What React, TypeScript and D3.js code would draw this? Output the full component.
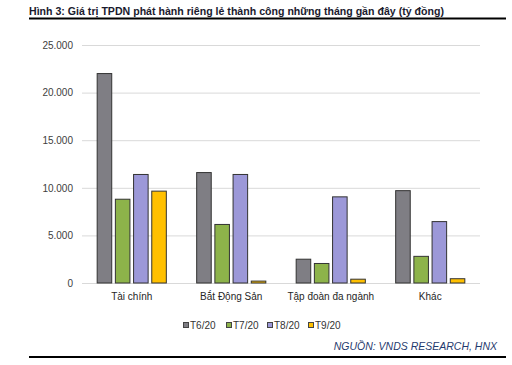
import React, { useRef, useEffect } from "react";
import { select, scaleBand, scaleLinear, axisLeft, format } from "d3";

const categories = ["Tài chính", "Bắt Động Sản", "Tập đoàn đa ngành", "Khác"];
const seriesNames = ["T6/20", "T7/20", "T8/20", "T9/20"];
const t6 = [22000, 11600, 2500, 9700];
const t7 = [8800, 6150, 2050, 2800];
const t8 = [11400, 11400, 9050, 6450];
const t9 = [9650, 200, 400, 450];
const yTicks = [0, 5000, 10000, 15000, 20000, 25000];
const colors = ["#7f7e84", "#8db34a", "#9c98d8", "#ffc000"];

const W = 512;
const H = 365;
const margin = { top: 45, right: 32, bottom: 82, left: 82 };

const App = () => {
  const svgRef = useRef<SVGSVGElement>(null);

  useEffect(() => {
    const svg = select(svgRef.current);
    svg.selectAll("*").remove();
    const font = "Liberation Sans, Arial, sans-serif";
    const values = [t6, t7, t8, t9];

    // header
    svg
      .append("text")
      .attr("x", 29)
      .attr("y", 14.5)
      .attr("font-family", font)
      .attr("font-size", 10.6)
      .attr("font-weight", "bold")
      .attr("fill", "#1a1a2e")
      .text("Hình 3: Giá trị TPDN phát hành riêng lẻ thành công những tháng gần đây (tỷ đồng)");
    svg
      .append("line")
      .attr("x1", 29)
      .attr("x2", 506)
      .attr("y1", 18.5)
      .attr("y2", 18.5)
      .attr("stroke", "#000")
      .attr("stroke-width", 2);

    const x = scaleBand()
      .domain(categories)
      .range([margin.left, W - margin.right])
      .paddingInner(0.305)
      .paddingOuter(0.1525);
    const xs = scaleBand()
      .domain(seriesNames)
      .range([0, x.bandwidth()])
      .paddingInner(0.2);
    const y = scaleLinear()
      .domain([0, 25000])
      .range([H - margin.bottom, margin.top]);

    const yAxis = axisLeft(y)
      .tickValues(yTicks)
      .tickSize(-(W - margin.right - margin.left))
      .tickPadding(9)
      .tickFormat((d) => format(",")(d as number).replace(/,/g, "."));
    const g = svg
      .append("g")
      .attr("transform", `translate(${margin.left},0)`)
      .call(yAxis);
    g.select(".domain").remove();
    g.selectAll(".tick line").attr("stroke", "#d9d9d9").attr("stroke-width", 1);
    g.selectAll(".tick text")
      .attr("font-family", font)
      .attr("font-size", 10)
      .attr("fill", "#404040");

    seriesNames.forEach((s, si) => {
      svg
        .append("g")
        .selectAll("rect")
        .data(values[si])
        .join("rect")
        .attr("x", (d, i) => (x(categories[i]) as number) + (xs(s) as number))
        .attr("y", (d) => y(d))
        .attr("width", xs.bandwidth())
        .attr("height", (d) => y(0) - y(d))
        .attr("fill", colors[si])
        .attr("stroke", "#333")
        .attr("stroke-width", 1);
    });

    svg
      .append("g")
      .selectAll("text")
      .data(categories)
      .join("text")
      .attr("x", (d) => (x(d) as number) + x.bandwidth() / 2)
      .attr("y", 300)
      .attr("text-anchor", "middle")
      .attr("font-family", font)
      .attr("font-size", 10)
      .attr("fill", "#262626")
      .text((d) => d);

    // legend
    const legendX = [183, 226, 267, 308];
    seriesNames.forEach((s, i) => {
      svg
        .append("rect")
        .attr("x", legendX[i] + 0.5)
        .attr("y", 322.5)
        .attr("width", 5)
        .attr("height", 5)
        .attr("fill", colors[i])
        .attr("stroke", "#444")
        .attr("stroke-width", 1);
      svg
        .append("text")
        .attr("x", legendX[i] + 7)
        .attr("y", 329)
        .attr("font-family", font)
        .attr("font-size", 10)
        .attr("fill", "#333")
        .text(s);
    });

    svg
      .append("text")
      .attr("x", 497)
      .attr("y", 350)
      .attr("text-anchor", "end")
      .attr("font-family", font)
      .attr("font-size", 10.5)
      .attr("font-style", "italic")
      .attr("fill", "#1f3a6e")
      .text("NGUỒN:  VNDS  RESEARCH,  HNX");
    svg
      .append("line")
      .attr("x1", 29)
      .attr("x2", 506)
      .attr("y1", 357)
      .attr("y2", 357)
      .attr("stroke", "#000")
      .attr("stroke-width", 2);
  }, []);

  return (
    <svg
      ref={svgRef}
      width={W}
      height={H}
      style={{ position: "absolute", left: 0, top: 0, background: "#fff" }}
    />
  );
};

export default App;
